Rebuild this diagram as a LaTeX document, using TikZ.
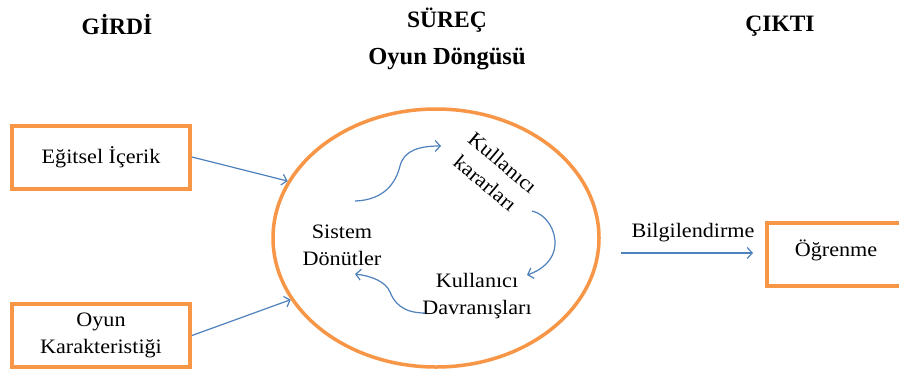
\documentclass[tikz,border=0pt]{standalone}
\usepackage{fontspec}
\setmainfont{Liberation Serif}
\newfontfamily\bodyfont[FakeStretch=1.08]{Liberation Serif}
\usetikzlibrary{shapes.geometric,arrows.meta}
\definecolor{org}{HTML}{F79646}
\definecolor{blu}{HTML}{4F81BD}
\tikzset{
  hdr/.style={font=\fontsize{23.5}{27}\selectfont\bfseries, inner sep=0pt},
  txt/.style={font=\bodyfont\fontsize{20.5}{27}\selectfont, align=center, inner sep=0pt},
  obox/.style={draw=org, line width=4pt, rectangle, minimum width=178pt, minimum height=63pt, txt},
  flow/.style={draw=blu, line width=1.2pt, -{Straight Barb[length=5pt,width=11pt,line width=1.2pt]}},
}
\begin{document}
\begin{tikzpicture}[x=1pt,y=-1pt]
\useasboundingbox (0,0) rectangle (899,376);
\clip (0,0) rectangle (899,376);
\fill[white] (0,0) rectangle (899,376);
% headers
\node[hdr] (girdi) at (117,25) {GİRDİ};
\node[hdr] (surec) at (447,20) {SÜREÇ};
\node[hdr, font=\fontsize{24.5}{28}\selectfont\bfseries] (dongu) at (447,59) {Oyun Döngüsü};
\node[hdr] (cikti) at (780,26) {ÇIKTI};
% boxes
\node[obox] (egit) at (101,157) {Eğitsel İçerik};
\node[obox] (oyun) at (101,335.5) {Oyun\\Karakteristiği};
\node[draw=org, line width=4pt, rectangle, minimum width=138pt, minimum height=63pt] (ogr) at (836,254.5) {};
\node[txt] (ogrt) at (836,250) {Öğrenme};
% ellipse
\node[draw=org, line width=3.5pt, ellipse, minimum width=326pt, minimum height=258pt, inner sep=0pt] (ell) at (436,238) {};
% inner texts
\node[txt] (sis) at (342,245) {Sistem\\Dönütler};
\node[txt, rotate=-40] (karar) at (494,173) {Kullanıcı\\kararları};
\node[txt] (davr) at (477,296) {Kullanıcı\\Davranışları};
\node[txt] (bilg) at (693,233) {Bilgilendirme};
% connectors
\draw[flow] (egit.east) -- (ell.159);
\draw[flow] (oyun.east) -- (ell.203);
\coordinate (bs) at (621,253);
\coordinate (be) at (753,253);
\draw[flow] (bs) -- (be);
% cycle
\coordinate (c1s) at (355,201);
\coordinate (c1e) at (441,146);
\coordinate (c2s) at (532,211);
\coordinate (c2e) at (527,275);
\coordinate (c3s) at (425,313);
\coordinate (c3e) at (355,274);
\draw[flow] (c1s) .. controls (385,200) and (396,182) .. (400,166) .. controls (404,150) and (420,146) .. (c1e);
\draw[flow] (c2s) .. controls (546,214) and (556,230) .. (555,245) .. controls (554,260) and (542,270) .. (c2e);
\draw[flow] (c3s) .. controls (402,313) and (394,302) .. (390,292) .. controls (386,282) and (372,276) .. (c3e);
\end{tikzpicture}
\end{document}
